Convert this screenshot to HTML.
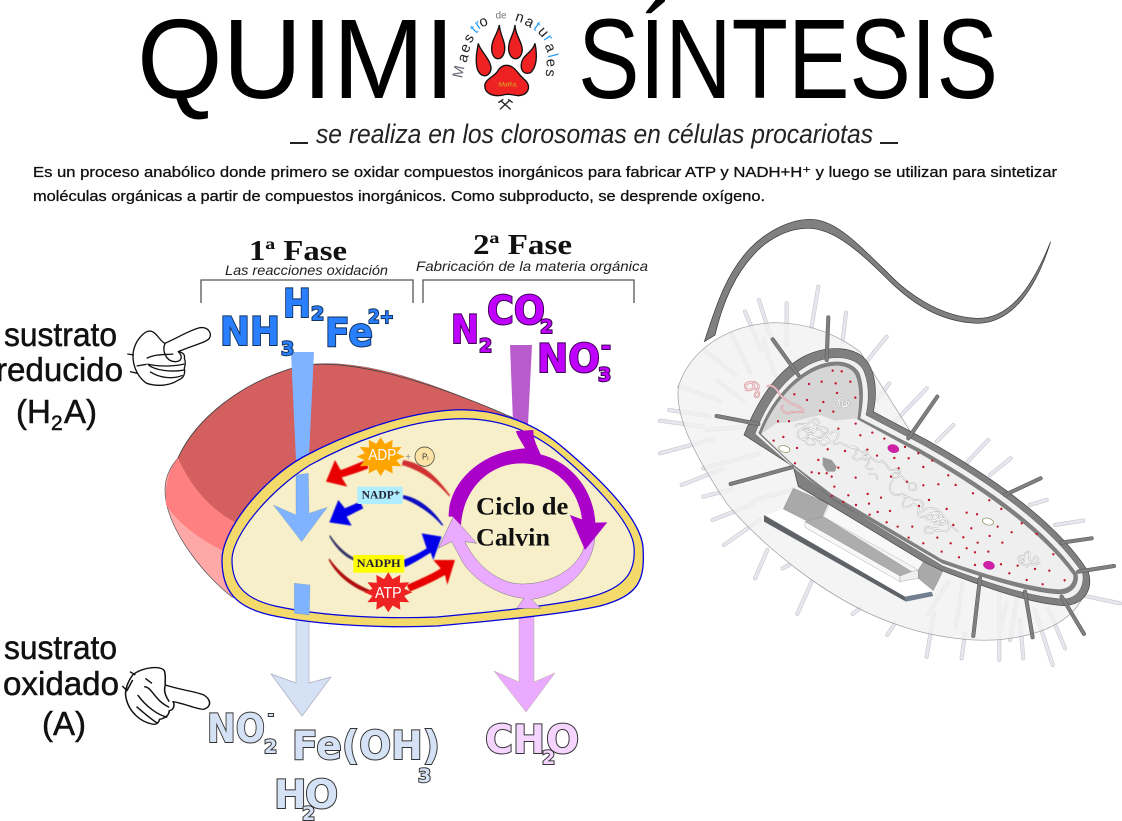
<!DOCTYPE html>
<html><head><meta charset="utf-8"><style>
html,body{margin:0;padding:0;background:#fff}
svg{display:block}
text{font-family:"Liberation Sans",sans-serif}
.ch{font-family:"DejaVu Sans",sans-serif;font-weight:bold;paint-order:stroke}
.b{fill:#2a7fff;stroke:#12335c;stroke-width:2}
.p{fill:#c000ff;stroke:#3a0050;stroke-width:2}
.l{fill:#d5e2f5;stroke:#333;stroke-width:2}
.k{fill:#f5d5ff;stroke:#333;stroke-width:2}
.s{font-size:39px}.u{font-size:19px}
.lb{stroke:#111;stroke-width:.5}
.pa{stroke:#111;stroke-width:.3}
</style></head><body>
<svg width="1122" height="821" viewBox="0 0 1122 821" xmlns="http://www.w3.org/2000/svg">
<defs>
<polygon id="star" points="100,0 66,18 87,50 48,48 50,87 18,66 0,100 -18,66 -50,87 -48,48 -87,50 -66,18 -100,0 -66,-18 -87,-50 -48,-48 -50,-87 -18,-66 0,-100 18,-66 50,-87 48,-48 87,-50 66,-18"/>
<filter id="bl" x="-10%" y="-10%" width="120%" height="120%"><feGaussianBlur stdDeviation="1.5"/></filter>
<g id="lp" fill="none" stroke-linecap="round"><path d="M475,230L455,350M380,280L380,405M297,270L330,375M255,305L303,420M310,390L345,495M215,372L270,485M135,422L225,495M172,512L250,572M58,530L180,572M28,600L145,618M0,632L128,650M140,660L255,650M0,730L158,688M130,775L295,732M65,825L185,778M130,860L215,838M285,870L400,838M158,930L280,882M192,1005L298,930M285,1105L322,1020M412,1212L455,1115M368,1075L388,1065M578,1212L600,1195M682,1275L705,1240M800,1340L822,1210M805,1212L865,1115M888,1248L908,1120M905,1345L915,1270M1018,1350L1018,1150M1020,1265L1040,1180M1050,1290L1072,1160M1090,1345L1080,1230M1178,1365L1125,1200M1215,1315L1165,1195M1380,1180L1260,1155M1270,932L1185,945M1160,870L1110,885M1052,745L990,795M985,690L895,785M880,645L830,695M800,535L705,635M688,520L650,570M680,380L620,455M558,308L548,395"/></g>
<g id="dp" fill="none" stroke-linecap="round"><path d="M505,322L500,450M338,388L415,495M170,618L295,642M212,822L395,772M832,560L745,685M1142,805L1035,855M1295,985L1205,998M1362,1068L1255,1085M1272,1272L1205,1160M1118,1282L1095,1145M940,1278L960,1105"/></g>
<g id="nuc" fill="none"><path d="M405,650c15,-20 30,5 45,-15c15,-5 25,20 10,30c-20,5 -30,-15 -45,0c-10,20 15,30 30,20c15,-15 30,10 15,20c-20,5 -30,-15 -20,-25c20,-5 35,10 50,-5c15,0 20,25 5,30c-15,5 -20,-15 -5,-20c20,0 30,25 45,15c15,-5 25,15 40,10c15,-5 20,20 35,15c15,-5 20,15 10,25c-15,5 -15,-20 0,-15c15,5 25,25 40,20c15,-5 20,15 30,25c10,5 20,-10 30,5c5,15 -15,25 -25,15c-5,-10 15,-15 25,-5c15,10 15,25 30,25c15,-5 25,10 15,20c-15,5 -25,-10 -15,-15"/><path d="M420,660c20,-15 35,0 50,-10c15,5 10,20 30,20c15,-10 -10,-25 -25,-15c-20,15 -30,25 -15,35c15,5 25,-10 40,0c10,15 30,5 35,-15c5,-15 -20,-15 -25,0M455,630c10,-10 25,0 20,15c-10,15 -30,5 -35,20c0,15 25,10 35,25M570,715c15,-10 25,10 15,20c-15,10 5,20 20,10c15,-15 30,0 20,15c-15,10 0,25 15,15M625,795c15,-10 30,0 25,15"/><path d="M700,810c-15,15 -15,35 5,45c15,5 20,-10 30,0c10,15 -15,20 -5,35c15,10 25,-15 40,-5c15,10 -5,30 10,35c20,5 35,-20 50,-5c15,15 -20,25 -30,10c-5,-10 25,-25 40,-15c20,10 20,30 5,35c-15,0 -15,-15 0,-20c20,0 30,20 20,35c-15,10 -30,-5 -45,5c-15,10 -30,5 -25,-10c10,-10 25,5 40,0"/><path d="M780,910c20,-20 45,-20 60,-5c15,15 -5,30 -20,25c-15,-10 5,-30 20,-15c10,15 -5,30 -20,25M730,860c20,-5 25,15 40,10c10,-5 25,10 15,25"/><path d="M810,935c15,-5 30,10 45,5c15,0 25,15 40,25" stroke-opacity=".7"/></g>
<g id="sq" fill="none"><path d="M525,575c10,-15 20,5 10,15c-10,5 0,-25 10,-25c10,5 -5,25 10,25c10,-5 0,-20 10,-15c5,10 -10,20 -20,15M1075,1045c10,-15 25,0 15,10c-10,5 5,-30 15,-30c10,0 -5,30 10,30c10,-5 5,-20 15,-15c10,5 -5,20 5,20c-15,10 -30,-5 -35,10c-5,-10 -20,0 -25,-25"/></g>
<g id="pk" fill="none"><path d="M260,525c10,-15 25,-5 20,10c-10,10 -25,5 -25,-10c5,-10 30,-15 40,0c5,15 -15,25 -10,35c10,5 15,-5 10,-15M255,540c15,5 30,-15 40,5M320,530c15,-10 30,5 40,25c15,10 25,25 45,30c15,5 25,15 25,20c-15,5 -30,-5 -45,5c-15,0 -25,-15 -15,-25"/></g>
</defs>

<!-- TITLE -->
<text x="137" y="98" font-size="113" textLength="318" lengthAdjust="spacingAndGlyphs" fill="#000">QUIMI</text>
<text x="578" y="98" font-size="113" textLength="420" lengthAdjust="spacingAndGlyphs" fill="#000">SÍNTESIS</text>

<!-- PAW LOGO -->
<g transform="translate(440,0) scale(.3333)">
<g font-size="44" fill="#222" text-anchor="middle">
<text transform="translate(70,218) rotate(-78)" fill="#667">M</text>
<text transform="translate(82,178) rotate(-72)">a</text>
<text transform="translate(88,150) rotate(-65)">e</text>
<text transform="translate(98,122) rotate(-58)">s</text>
<text transform="translate(112,98) rotate(-45)" fill="#2a9df4">t</text>
<text transform="translate(122,85) rotate(-35)" fill="#2a9df4">r</text>
<text transform="translate(135,78) rotate(-22)">o</text>
<text transform="translate(183,55)" font-size="30" fill="#777">de</text>
<text transform="translate(235,65) rotate(18)">n</text>
<text transform="translate(262,78) rotate(28)">a</text>
<text transform="translate(283,90) rotate(36)" fill="#2a9df4">t</text>
<text transform="translate(300,105) rotate(48)">u</text>
<text transform="translate(314,122) rotate(55)" fill="#2a9df4">r</text>
<text transform="translate(318,148) rotate(68)">a</text>
<text transform="translate(325,170) rotate(76)" fill="#2a9df4">l</text>
<text transform="translate(320,190) rotate(84)">e</text>
<text transform="translate(318,218) rotate(95)">s</text>
</g>
<g fill="#ee2222" stroke="#111" stroke-width="4">
<path d="M178,75C180,105 197,125 194,150C190,185 158,185 155,150C153,120 172,105 178,75Z"/>
<path d="M225,75C225,105 247,125 247,150C244,185 210,185 206,150C204,120 222,105 225,75Z"/>
<path d="M115,130C118,150 155,180 153,208C146,238 115,232 110,198C106,170 112,150 115,130Z"/>
<path d="M285,130C292,165 292,198 272,218C245,228 236,198 250,175C263,158 280,150 285,130Z"/>
<path d="M200,196C225,196 235,225 255,240C275,260 265,285 235,287C215,285 205,280 190,285C160,292 130,280 135,252C140,235 170,225 175,210C182,200 190,196 200,196Z"/>
</g>
<text x="175" y="260" font-size="20" font-style="italic" fill="#d8b020">MaRa.</text>
<path d="M180,328L208,302M212,328L182,302M175,308L190,298M205,298L218,308" stroke="#222" stroke-width="4" fill="none"/>
</g>

<!-- SUBTITLE -->
<path d="M290,143H308M880,143H898" stroke="#222" stroke-width="2"/>
<text x="316" y="143" font-size="27" font-style="italic" textLength="557" lengthAdjust="spacingAndGlyphs" fill="#222">se realiza en los clorosomas en células procariotas</text>
<!-- PARAGRAPH -->
<text class="pa" x="33" y="177" font-size="15" textLength="1024" lengthAdjust="spacingAndGlyphs" fill="#111">Es un proceso anabólico donde primero se oxidar compuestos inorgánicos para fabricar ATP y NADH+H⁺ y luego se utilizan  para sintetizar</text>
<text class="pa" x="33" y="201" font-size="15" textLength="732" lengthAdjust="spacingAndGlyphs" fill="#111">moléculas orgánicas a partir de compuestos inorgánicos. Como subproducto, se desprende oxígeno.</text>

<!-- PHASE HEADERS -->
<text x="249" y="260" font-size="28" font-weight="bold" textLength="98" lengthAdjust="spacingAndGlyphs" style="font-family:'Liberation Serif',serif" fill="#111">1ª Fase</text>
<text x="473" y="254" font-size="28" font-weight="bold" textLength="99" lengthAdjust="spacingAndGlyphs" style="font-family:'Liberation Serif',serif" fill="#111">2ª Fase</text>
<text x="225" y="275" font-size="14" font-style="italic" textLength="163" lengthAdjust="spacingAndGlyphs" fill="#222">Las reacciones oxidación</text>
<text x="416" y="271" font-size="14" font-style="italic" textLength="232" lengthAdjust="spacingAndGlyphs" fill="#222">Fabricación de la materia orgánica</text>
<path d="M201,303V280H413V303M423,303V280H634V303" fill="none" stroke="#555" stroke-width="1.3"/>

<!-- LEFT LABELS -->
<g font-size="33" fill="#111" class="lb">
<text x="4" y="346" textLength="113" lengthAdjust="spacingAndGlyphs">sustrato</text>
<text x="-4" y="381" textLength="127" lengthAdjust="spacingAndGlyphs">reducido</text>
<text x="16" y="423">(H</text><text x="51" y="430" font-size="21">2</text><text x="64" y="423">A)</text>
<text x="4" y="659" textLength="113" lengthAdjust="spacingAndGlyphs">sustrato</text>
<text x="3" y="695" textLength="116" lengthAdjust="spacingAndGlyphs">oxidado</text>
<text x="42" y="735">(A)</text>
</g>

<!-- HANDS -->
<g transform="translate(0,230) scale(.3333)" fill="#fff" stroke="#111" stroke-width="4" stroke-linejoin="round">
<path d="M400,365C405,335 430,303 450,303C470,305 480,335 495,340C530,325 570,300 600,293C625,290 637,310 628,325C618,338 580,345 535,365C550,368 556,375 553,385C558,395 556,405 553,415C556,430 552,445 535,450C510,468 470,470 440,460C410,440 395,400 400,365Z"/>
<path fill="none" d="M495,340C485,365 500,395 525,395C545,395 550,380 535,365M440,385C470,370 500,375 520,372M442,402C480,412 530,408 553,402M445,405C465,420 510,428 553,420M450,425C480,445 520,448 548,436M382,372L402,375M410,408L440,403M390,425L412,430"/>
</g>
<g transform="translate(0,620) scale(.3846,.3333)" fill="#fff" stroke="#111" stroke-width="4" stroke-linejoin="round">
<path d="M345,165C370,140 425,135 428,155C432,175 428,185 430,195C470,210 510,215 530,225C550,240 550,260 530,268C510,268 480,250 450,245C455,255 452,270 440,272C440,285 430,295 415,298C412,310 405,315 395,312C365,305 335,275 328,235C322,210 335,180 345,165Z"/>
<path fill="none" d="M430,195C425,210 428,225 440,245M375,200C395,200 400,240 440,262M358,225C380,260 410,285 435,292M355,260C375,280 395,300 410,310M378,175L395,190M338,155L352,165M318,198L330,212L345,180"/>
</g>

<!-- CHLOROSOME -->
<path d="M232,597C200,572 165,525 165,490C165,475 172,465 178,458C195,420 240,382 300,366C360,355 440,385 520,422L560,560L300,620Z" fill="#ffa8a8" stroke="#555" stroke-width=".7"/>
<path d="M166,505C165,480 170,468 178,458C195,420 240,382 300,366C360,355 440,385 520,422L500,520L226,552C200,540 180,525 166,505Z" fill="#ff8080"/>
<path d="M237,523C210,510 190,485 178,458C195,420 240,382 300,366C360,355 440,385 520,422L480,480L300,520Z" fill="#d35f5f"/>
<path d="M178,458C195,420 240,382 300,366C350,357 435,383 518,420" fill="none" stroke="#444" stroke-width=".8"/>
<!-- top shafts -->
<path d="M291,352H314L309,456L296,460Z" fill="#80b3ff"/>
<path d="M510,345H532L528,425L513,422Z" fill="#b95ccb"/>
<!-- lower arrows behind body -->
<path d="M296,610H309V683L331,677L302,716L271,674L296,683Z" fill="#d5e2f5" stroke="#aab" stroke-width=".7"/>
<path d="M519,610H534V682L555,673L526,712L494,671L519,682Z" fill="#e9aaff" stroke="#ba9" stroke-width=".5"/>
<!-- body -->
<path d="M222,560C222,530 262,480 303,457C340,437 400,413 453,410C490,408 530,420 560,445C590,470 640,515 643,547C645,580 640,595 600,606C560,615 480,622 437,626C390,628 320,626 270,615C235,607 222,590 222,560Z" fill="#f3da6a" stroke="#0000e0" stroke-width="1.3"/>
<path d="M232,560C232,535 270,490 310,465C350,443 405,421 453,419C490,417 525,427 555,450C585,475 632,520 634,547C636,572 625,588 590,597C555,606 480,613 437,617C390,619 325,617 275,606C245,599 232,585 232,560Z" fill="#f7efc9" stroke="#0000e0" stroke-width="1.2"/>

<g transform="translate(170,360) scale(.3333)">
<!-- blue down arrow -->
<path d="M378,345L415,340L417,460L472,442L395,545L310,435L378,465Z" fill="#80b3ff" stroke="#79a" stroke-width="1"/>
<path d="M373,670L420,675L418,765L373,760Z" fill="#80b3ff" stroke="#79a" stroke-width="1"/>
<!-- side arrows -->
<g filter="url(#bl)">
<path d="M840,405C800,350 760,310 700,300L695,315C750,330 800,365 838,410Z" fill="#d03030"/>
<path d="M590,300C560,310 530,325 512,330L495,300L468,365L532,380L515,352C540,345 570,335 595,325Z" fill="#e80000"/>
<path d="M820,495C790,450 750,415 700,405L698,415C740,430 790,465 816,497Z" fill="#1010c0"/>
<path d="M570,425C555,432 535,440 525,445L505,420L478,487L545,497L530,470C550,460 565,452 580,445Z" fill="#0000e8"/>
<path d="M480,525C500,555 525,580 555,595L552,602C520,590 495,560 478,530Z" fill="#333366"/>
<path d="M700,600C725,590 750,578 770,565L755,520L815,530L790,600L782,578C755,595 730,610 705,622Z" fill="#0000e8"/>
<path d="M478,595C510,640 550,670 600,690L595,700C540,680 500,645 476,600Z" fill="#b01010"/>
<path d="M710,675C745,660 790,640 812,625L790,600L855,600L832,675L825,645C790,665 755,680 720,695Z" fill="#e80000"/>
</g>
<!-- NADP boxes -->
<rect x="562" y="380" width="136" height="52" rx="4" fill="#aeeeff"/>
<text x="575" y="416" font-size="34" font-weight="bold" textLength="115" lengthAdjust="spacingAndGlyphs" style="font-family:'Liberation Serif',serif" fill="#223">NADP⁺</text>
<rect x="550" y="585" width="153" height="53" rx="4" fill="#ffff00"/>
<text x="560" y="621" font-size="34" font-weight="bold" textLength="132" lengthAdjust="spacingAndGlyphs" style="font-family:'Liberation Serif',serif" fill="#223">NADPH</text>
<!-- ADP / ATP -->
<use href="#star" transform="translate(632,290) scale(.72,.58)" fill="#ffa500"/>
<text x="595" y="300" font-size="46" textLength="84" lengthAdjust="spacingAndGlyphs" fill="#fff">ADP</text>
<text x="706" y="300" font-size="30" fill="#888">+</text>
<circle cx="764" cy="290" r="29" fill="#fbe3a6" stroke="#333" stroke-width="2"/>
<text x="756" y="298" font-size="24" fill="#333">Pᵢ</text>
<use href="#star" transform="translate(655,697) scale(.72,.6)" fill="#ee2222"/>
<text x="615" y="714" font-size="46" textLength="80" lengthAdjust="spacingAndGlyphs" fill="#fff">ATP</text>
<!-- Calvin cycle -->
<path d="M1040,745L1062,715C1000,710 920,670 880,610L845,545L805,565L850,470L920,550L885,545C920,620 990,672 1055,672C1150,672 1235,620 1248,540L1275,530C1270,620 1190,705 1085,718L1112,745Z" fill="#e9aaff" stroke="#777" stroke-width="1.5" stroke-linejoin="round"/>
<path d="M1038,213L1090,210C1090,240 1100,255 1112,283C1200,305 1270,385 1276,488L1312,487L1245,570L1200,465L1236,478C1225,380 1150,310 1055,310C960,310 880,385 873,495L848,470L836,470C835,370 930,275 1065,265C1055,245 1042,230 1038,213Z" fill="#aa00c8"/>
<text x="918" y="463" font-size="76" font-weight="bold" textLength="277" lengthAdjust="spacingAndGlyphs" style="font-family:'Liberation Serif',serif" fill="#111">Ciclo de</text>
<text x="918" y="557" font-size="76" font-weight="bold" textLength="222" lengthAdjust="spacingAndGlyphs" style="font-family:'Liberation Serif',serif" fill="#111">Calvin</text>
</g>

<!-- FORMULAS -->
<text class="ch b s" x="220" y="345" textLength="60" lengthAdjust="spacingAndGlyphs">NH</text>
<text class="ch b u" x="281" y="355">3</text>
<text class="ch b s" x="283" y="317" textLength="28" lengthAdjust="spacingAndGlyphs">H</text>
<text class="ch b u" x="311" y="320">2</text>
<text class="ch b s" x="325" y="346" textLength="48" lengthAdjust="spacingAndGlyphs">Fe</text>
<text class="ch b u" x="368" y="323" textLength="26" lengthAdjust="spacingAndGlyphs">2+</text>
<text class="ch p s" x="451" y="343" textLength="28" lengthAdjust="spacingAndGlyphs">N</text>
<text class="ch p u" x="479" y="352">2</text>
<text class="ch p s" x="487" y="324" textLength="58" lengthAdjust="spacingAndGlyphs">CO</text>
<text class="ch p u" x="540" y="333">2</text>
<text class="ch p s" x="537" y="372" textLength="63" lengthAdjust="spacingAndGlyphs">NO</text>
<text class="ch p u" x="598" y="381">3</text>
<text class="ch p" x="601" y="354" font-size="24">-</text>
<text class="ch l s" x="207" y="742" textLength="58" lengthAdjust="spacingAndGlyphs">NO</text>
<text class="ch l" x="268" y="719" font-size="14">-</text>
<text class="ch l u" x="264" y="753">2</text>
<text class="ch l s" x="292" y="759" textLength="148" lengthAdjust="spacingAndGlyphs">Fe(OH)</text>
<text class="ch l u" x="418" y="782">3</text>
<text class="ch l s" x="274" y="808">H</text>
<text class="ch l s" x="305" y="808">O</text>
<text class="ch l u" x="302" y="820">2</text>
<text class="ch k s" x="485" y="753" textLength="60" lengthAdjust="spacingAndGlyphs">CH</text>
<text class="ch k s" x="546" y="753">O</text>
<text class="ch k u" x="542" y="764">2</text>

<!-- BACTERIUM -->
<g transform="translate(660,210) scale(.3333)">
<path d="M133,395C170,280 200,190 270,115C330,55 400,28 450,28C530,28 600,110 680,185C740,250 840,320 950,325C1040,328 1110,250 1172,95C1130,230 1060,340 950,340C830,335 745,270 680,205C600,125 520,55 445,55C380,55 320,90 280,135C220,200 185,290 165,375Z" fill="#808080" stroke="#333" stroke-width="2"/>
<use href="#lp" stroke="#c0c0c8" stroke-width="12"/>
<use href="#lp" stroke="#e6e6ee" stroke-width="9"/>
<path d="M600,425C520,365 430,338 340,338C200,345 90,420 55,530C45,620 100,730 200,880C300,1000 500,1170 700,1240C820,1285 960,1300 1050,1285C1160,1270 1240,1230 1275,1150L900,900Z" fill="#f1f1f1" fill-opacity=".78" stroke="#999" stroke-width="2"/>
<!-- cut capsule -->
<path d="M315,915L370,897L435,935L720,1115L775,1105L820,1145L735,1160Z" fill="#fff"/>
<path d="M312,915L735,1160L738,1175L312,935Z" fill="#5f6368"/>
<path d="M735,1160L815,1145L820,1158L738,1175Z" fill="#708090"/>
<path d="M490,920L510,880L795,1050L775,1080Z" fill="#f8f8f8" stroke="#999" stroke-width="1"/>
<path d="M435,935L490,920L755,1085L720,1098Z" fill="#adadad" stroke="#888" stroke-width="1"/>
<path d="M435,935L720,1098V1115L435,952Z" fill="#f8f8f8" stroke="#888" stroke-width="1"/>
<path d="M720,1098L755,1085L775,1080V1105L720,1115Z" fill="#efefef" stroke="#888" stroke-width="1"/>
<path d="M370,897L400,835L505,880L487,920L440,932Z" fill="#a9a9a9" stroke="#777" stroke-width="1"/>
<path d="M775,1080L795,1048L848,1085L820,1142L775,1105Z" fill="#a9a9a9" stroke="#777" stroke-width="1"/>
<!-- cell wall -->
<path d="M252,675C285,590 340,490 430,440C500,405 590,405 625,460C650,500 650,560 640,605L800,690C960,780 1180,920 1285,1085C1300,1130 1280,1185 1210,1187C1100,1180 960,1125 848,1083L820,1070L790,1055L510,885L415,830L400,770Z" fill="#808080" stroke="#444" stroke-width="2" stroke-linejoin="round"/>
<path d="M285,672C315,590 365,510 445,465C510,432 585,435 610,480C628,520 628,570 618,615L790,705C950,795 1160,930 1268,1090C1275,1125 1255,1170 1205,1167C1100,1160 960,1110 848,1068L515,865L410,782Z" fill="#f0f0f0" stroke="#555" stroke-width="1.5"/>
<path d="M296,670C330,580 385,515 450,478C510,445 575,448 598,490C612,530 610,575 600,625L775,715C935,805 1140,935 1252,1093C1258,1125 1235,1155 1195,1152C1090,1145 950,1095 848,1060L515,865L400,768Z" fill="#808080" stroke="#555" stroke-width="1"/>
<path d="M304,672C338,585 395,520 455,488C510,458 570,460 587,497C600,530 600,575 592,628L770,725C925,815 1125,940 1240,1095C1243,1120 1225,1140 1190,1138C1090,1130 950,1085 845,1048L515,852L395,760Z" fill="#efefef"/>
<path d="M304,672C338,585 395,520 455,488C510,458 570,460 587,497C600,530 600,575 592,625L525,632L480,615L400,635L350,640Z" fill="#d6d6d6"/>
<!-- contents -->
<use href="#pk" stroke="#c88" stroke-width="6"/>
<use href="#pk" stroke="#f8d8e0" stroke-width="3"/>
<use href="#sq" stroke="#aaa" stroke-width="5"/>
<use href="#sq" stroke="#fff" stroke-width="2.5"/>
<use href="#nuc" stroke="#aaa" stroke-width="5"/>
<use href="#nuc" stroke="#fff" stroke-width="2.5"/>
<path d="M488,742L515,750L530,770L525,785L500,785L488,765Z" fill="#999"/>
<ellipse cx="700" cy="716" rx="17" ry="12" transform="rotate(15 700 716)" fill="#d020a8" stroke="#a08" stroke-width="1"/>
<ellipse cx="987" cy="1066" rx="17" ry="12" transform="rotate(15 987 1066)" fill="#d020a8" stroke="#a08" stroke-width="1"/>
<ellipse cx="373" cy="717" rx="17" ry="10" transform="rotate(15 373 717)" fill="#fff" stroke="#885" stroke-width="2"/>
<ellipse cx="984" cy="935" rx="17" ry="10" transform="rotate(15 984 935)" fill="#fff" stroke="#885" stroke-width="2"/>
<!-- dark pili -->
<use href="#dp" stroke="#555" stroke-width="12"/>
<use href="#dp" stroke="#808080" stroke-width="9"/>
<!-- ribosomes -->
<path fill="none" stroke="#c0142a" stroke-width="7" stroke-linecap="round" d="M518,482h.1M545,484h.1M447,522h.1M485,515h.1M527,520h.1M571,515h.1M403,553h.1M531,549h.1M586,563h.1M441,570h.1M490,576h.1M480,602h.1M520,605h.1M354,634h.1M387,634h.1M341,692h.1M370,681h.1M411,714h.1M535,656h.1M587,641h.1M601,676h.1M637,668h.1M673,686h.1M735,711h.1M775,730h.1M817,752h.1M622,719h.1M651,737h.1M703,744h.1M746,745h.1M716,775h.1M790,771h.1M865,796h.1M475,750h.1M503,718h.1M555,723h.1M535,773h.1M455,787h.1M477,790h.1M500,790h.1M515,800h.1M405,760h.1M587,803h.1M693,800h.1M741,815h.1M790,826h.1M835,823h.1M887,825h.1M939,850h.1M988,871h.1M1024,897h.1M523,830h.1M515,858h.1M565,856h.1M623,852h.1M663,863h.1M550,876h.1M588,885h.1M627,881h.1M653,906h.1M690,903h.1M629,914h.1M807,870h.1M777,888h.1M860,897h.1M920,908h.1M951,913h.1M1013,950h.1M1055,967h.1M1085,940h.1M1130,972h.1M680,937h.1M713,950h.1M757,950h.1M880,945h.1M934,955h.1M989,978h.1M1027,998h.1M746,983h.1M790,1000h.1M832,983h.1M872,1000h.1M910,982h.1M953,998h.1M845,1025h.1M897,1042h.1M920,1015h.1M945,1027h.1M985,1025h.1M945,1065h.1M1023,1063h.1M1073,1067h.1M1125,1077h.1M1168,1082h.1M1180,1033h.1M1048,1090h.1M1100,1110h.1M1148,1123h.1M1214,1111h.1"/>
</g>
</svg>
</body></html>
